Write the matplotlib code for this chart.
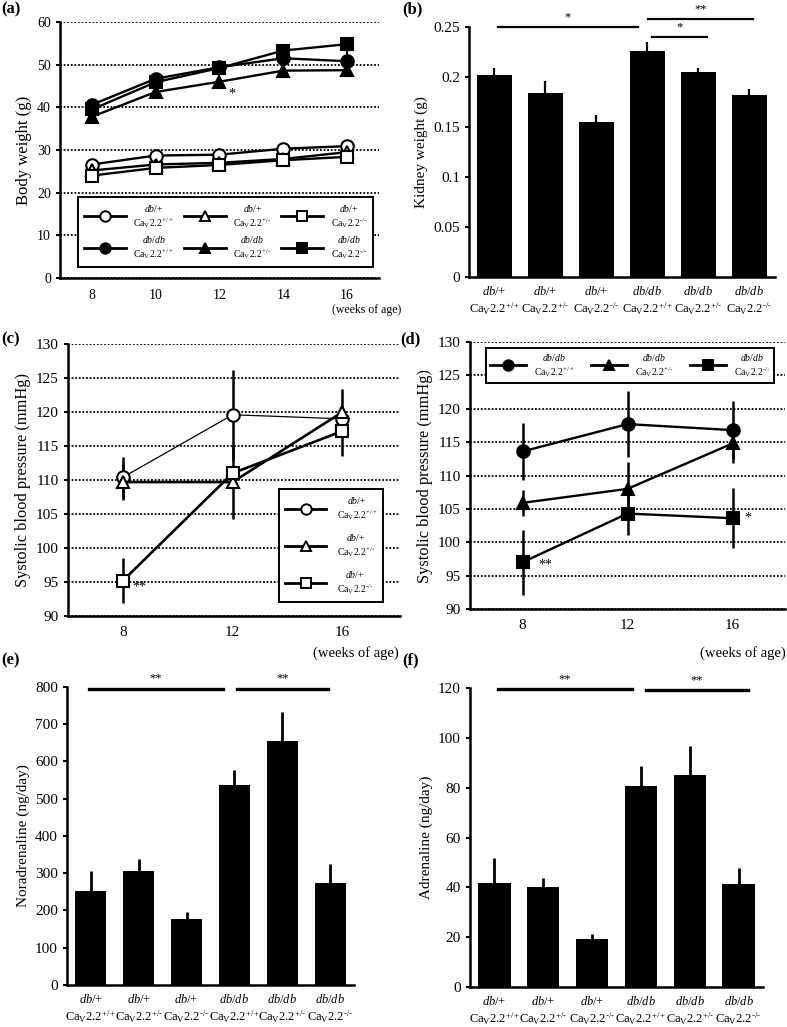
import matplotlib.pyplot as plt
from matplotlib.lines import Line2D
import numpy as np

plt.rcParams['font.family'] = ['Liberation Serif', 'DejaVu Serif']
plt.rcParams['mathtext.fontset'] = 'custom'
plt.rcParams['mathtext.rm'] = 'Liberation Serif'
plt.rcParams['mathtext.it'] = 'Liberation Serif:italic'
plt.rcParams['mathtext.bf'] = 'Liberation Serif:bold'

# ---- data ----
background = ['db/{+}', 'db/{+}', 'db/{+}', 'db/db', 'db/db', 'db/db']
cav_type = ['+/+', '+/-', '-/-', '+/+', '+/-', '-/-']

# (a) body weight
weeks_a = [8, 10, 12, 14, 16]
bw_dbp_pp = [26.6, 28.7, 28.9, 30.3, 30.9]
bw_dbp_pm = [25.2, 26.6, 27.0, 27.9, 29.5]
bw_dbp_mm = [24.0, 25.8, 26.5, 27.6, 28.4]
bw_dbdb_pp = [40.6, 46.7, 49.4, 51.5, 50.8]
bw_dbdb_pm = [37.8, 43.6, 46.0, 48.6, 48.7]
bw_dbdb_mm = [39.5, 45.9, 49.2, 53.3, 54.8]
bw_err_dbp = [0.6, 0.6, 0.6, 0.6, 0.7]
bw_err_dbdb_pp = [1.0, 1.0, 1.2, 1.5, 2.3]
bw_err_dbdb_pm = [0.8, 1.0, 1.6, 1.0, 1.0]
bw_err_dbdb_mm = [0.8, 1.0, 1.0, 1.0, 0.8]

# (b) kidney weight
kidney = [0.2025, 0.1838, 0.1546, 0.2264, 0.2048, 0.1822]
kidney_err = [0.0065, 0.0127, 0.0074, 0.0086, 0.0042, 0.0056]

# (c) / (d) systolic blood pressure
weeks_bp = [8, 12, 16]
sbp_dbp_pp = [110.4, 119.6, 119.0]
sbp_dbp_pm = [109.7, 109.7, 120.0]
sbp_dbp_mm = [95.2, 111.0, 117.2]
sbp_err_dbp_pp = [3.0, 6.6, 1.0]
sbp_err_dbp_pm = [2.7, 5.5, 3.4]
sbp_err_dbp_mm = [3.3, 1.0, 3.6]
sbp_dbdb_pp = [113.6, 117.7, 116.8]
sbp_dbdb_pm = [105.9, 108.0, 114.8]
sbp_dbdb_mm = [97.0, 104.3, 103.6]
sbp_err_dbdb_pp = [4.3, 5.0, 4.3]
sbp_err_dbdb_pm = [2.0, 4.0, 3.0]
sbp_err_dbdb_mm = [4.9, 3.2, 4.5]

# (e) noradrenaline, (f) adrenaline
noradr = [253, 306, 178, 537, 655, 274]
noradr_err = [54, 32, 17, 41, 78, 50]
adr = [41.9, 40.3, 19.2, 80.5, 85.3, 41.3]
adr_err = [10.0, 3.4, 2.0, 8.1, 11.5, 6.4]

# significance brackets: (x0, x1, y, label, star_y)
sig_b = [(0.07, 2.81, 0.2500, '*', 0.2535),
         (3.01, 5.07, 0.2583, '**', 0.2617),
         (3.09, 4.17, 0.2400, '*', 0.2440)]
sig_e = [(-0.04, 2.76, 794, '**', 808),
         (3.05, 4.95, 794, '**', 808)]
sig_f = [(0.07, 2.82, 119.5, '**', 121.3),
         (3.10, 5.20, 119.4, '**', 120.6)]


def geno(bg, ca):
    ca = ca.replace('-', '\u2010')
    return r'$\mathit{' + bg + '}$' + '\n' + r'Ca$_{\mathrm{V}}$2.2$^{' + ca + '}$'


labels = [geno(b, c) for b, c in zip(background, cav_type)]


def style(ax, fs=11):
    for s in ['top', 'right']:
        ax.spines[s].set_visible(False)
    for s in ['left', 'bottom']:
        ax.spines[s].set_linewidth(1.8)
    ax.tick_params(axis='y', direction='out', length=3, width=1.5, labelsize=fs)
    ax.tick_params(axis='x', length=0, labelsize=fs)


def grid(ax):
    ax.yaxis.grid(True, color='black', linewidth=1.3, linestyle=(0, (1, 1)))
    ax.set_axisbelow(True)


def proxy(m, fc):
    return Line2D([], [], color='black', lw=2.0, marker=m, markersize=7.5,
                  mfc=fc, mec='black', mew=1.4)


def boxed(leg):
    leg.get_frame().set_linewidth(1.4)
    for t in leg.get_texts():
        t.set_multialignment('center')


fig = plt.figure(figsize=(7.87, 10.27), dpi=100)

# ---------------- (a) ----------------
ax = fig.add_axes([0.0762, 0.7293, 0.4053, 0.2493])
style(ax, 10)
grid(ax)
series_a = [
    (bw_dbp_pp, bw_err_dbp, 'o', 'white', 'db/{+}', '+/+'),
    (bw_dbdb_pp, bw_err_dbdb_pp, 'o', 'black', 'db/db', '+/+'),
    (bw_dbp_pm, bw_err_dbp, '^', 'white', 'db/{+}', '+/-'),
    (bw_dbdb_pm, bw_err_dbdb_pm, '^', 'black', 'db/db', '+/-'),
    (bw_dbp_mm, bw_err_dbp, 's', 'white', 'db/{+}', '-/-'),
    (bw_dbdb_mm, bw_err_dbdb_mm, 's', 'black', 'db/db', '-/-'),
]
for vals, err, m, fc, bg, ca in series_a:
    ax.errorbar(weeks_a, vals, yerr=err, marker=m, markersize=9, mfc=fc,
                mec='black', mew=1.5, color='black', lw=1.7, elinewidth=1.5,
                capsize=0)
ax.set_xlim(7, 17)
ax.set_ylim(0, 60)
ax.set_yticks(range(0, 61, 10))
ax.set_xticks(weeks_a)
ax.tick_params(axis='x', pad=8)
ax.set_ylabel('Body weight (g)', fontsize=12, labelpad=4)
ax.text(12.4, 43.0, '*', ha='center', va='center', fontsize=10)
leg = ax.legend([proxy(s[2], s[3]) for s in series_a],
                [geno(s[4], s[5]) for s in series_a],
                ncol=3, loc='lower left', bbox_to_anchor=(0.041, 0.023, 0.956, 0.258),
                mode='expand', fontsize=7, handlelength=4.3, frameon=True,
                fancybox=False, edgecolor='black', framealpha=1, borderpad=0.6,
                labelspacing=0.5, handletextpad=0.8)
boxed(leg)
fig.text(401 / 787, 1 - 310 / 1027, '(weeks of age)', ha='right', va='center', fontsize=8.5)

# ---------------- (b) ----------------
ax = fig.add_axes([0.5959, 0.7303, 0.3888, 0.2434])
style(ax)
x = np.arange(len(kidney))
ax.bar(x, kidney, width=0.67, color='black')
ax.vlines(x, kidney, np.array(kidney) + np.array(kidney_err), color='black', lw=1.6)
ax.set_xlim(-0.5, 5.5)
ax.set_ylim(0, 0.25)
ax.set_yticks([0, 0.05, 0.1, 0.15, 0.2, 0.25])
ax.set_yticklabels(['0', '0.05', '0.1', '0.15', '0.2', '0.25'])
ax.set_xticks(x)
ax.set_xticklabels(labels, fontsize=9)
ax.tick_params(axis='x', pad=6)
ax.set_ylabel('Kidney weight (g)', fontsize=11, labelpad=4)
for x0, x1, y, lab, sy in sig_b:
    ax.plot([x0, x1], [y, y], color='black', lw=1.6, clip_on=False)
    ax.text((x0 + x1) / 2, sy, lab, ha='center', va='bottom', fontsize=9)

# ---------------- (c) ----------------
ax = fig.add_axes([0.0864, 0.4002, 0.4219, 0.2648])
style(ax)
grid(ax)
series_c = [
    (sbp_dbp_pp, sbp_err_dbp_pp, 'o', 0.9, '+/+'),
    (sbp_dbp_pm, sbp_err_dbp_pm, '^', 1.9, '+/-'),
    (sbp_dbp_mm, sbp_err_dbp_mm, 's', 1.9, '-/-'),
]
for vals, err, m, lw, ca in series_c:
    ax.errorbar(weeks_bp, vals, yerr=err, marker=m, markersize=9, mfc='white',
                mec='black', mew=1.5, color='black', lw=lw, elinewidth=1.8,
                capsize=0)
ax.set_xlim(6, 18.1)
ax.set_ylim(90, 130)
ax.set_yticks(range(90, 131, 5))
ax.set_xticks(weeks_bp)
ax.tick_params(axis='x', pad=7)
ax.set_ylabel('Systolic blood pressure (mmHg)', fontsize=11.8, labelpad=4)
ax.text(8.35, 94.2, '**', ha='left', va='center', fontsize=10)
leg = ax.legend([proxy(s[2], 'white') for s in series_c],
                [geno('db/{+}', s[4]) for s in series_c],
                loc='lower right', bbox_to_anchor=(0.964, 0.033), fontsize=7,
                handlelength=4.2, frameon=True, fancybox=False, edgecolor='black',
                framealpha=1, borderpad=0.6, labelspacing=1.05, handletextpad=1.1)
boxed(leg)
fig.text(399 / 787, 1 - 653 / 1027, '(weeks of age)', ha='right', va='center', fontsize=10.5)

# ---------------- (d) ----------------
ax = fig.add_axes([0.5972, 0.4070, 0.4003, 0.2600])
style(ax)
grid(ax)
series_d = [
    (sbp_dbdb_pp, sbp_err_dbdb_pp, 'o', '+/+'),
    (sbp_dbdb_pm, sbp_err_dbdb_pm, '^', '+/-'),
    (sbp_dbdb_mm, sbp_err_dbdb_mm, 's', '-/-'),
]
for vals, err, m, ca in series_d:
    ax.errorbar(weeks_bp, vals, yerr=err, marker=m, markersize=9, mfc='black',
                mec='black', mew=1.5, color='black', lw=1.7, elinewidth=1.8,
                capsize=0)
ax.set_xlim(6, 18)
ax.set_ylim(90, 130)
ax.set_yticks(range(90, 131, 5))
ax.set_xticks(weeks_bp)
ax.tick_params(axis='x', pad=7)
ax.set_ylabel('Systolic blood pressure (mmHg)', fontsize=11.8, labelpad=4)
ax.text(8.6, 96.6, '**', ha='left', va='center', fontsize=10)
ax.text(16.45, 103.6, '*', ha='left', va='center', fontsize=10)
leg = ax.legend([proxy(s[2], 'black') for s in series_d],
                [geno('db/db', s[3]) for s in series_d],
                ncol=3, loc='upper left', bbox_to_anchor=(0.035, 0.854, 0.946, 0.142),
                mode='expand', fontsize=7, handlelength=3.7, frameon=True,
                fancybox=False, edgecolor='black', framealpha=1, borderpad=0.4,
                handletextpad=0.8)
boxed(leg)
fig.text(786 / 787, 1 - 653 / 1027, '(weeks of age)', ha='right', va='center', fontsize=10.5)

# ---------------- (e) ----------------
ax = fig.add_axes([0.0851, 0.0409, 0.3647, 0.2902])
style(ax)
x = np.arange(len(noradr))
ax.bar(x, noradr, width=0.65, color='black')
ax.vlines(x, noradr, np.array(noradr) + np.array(noradr_err), color='black', lw=2.0)
ax.set_xlim(-0.5, 5.5)
ax.set_ylim(0, 800)
ax.set_yticks(range(0, 801, 100))
ax.set_xticks(x)
ax.set_xticklabels(labels, fontsize=9)
ax.tick_params(axis='x', pad=6)
ax.set_ylabel('Noradrenaline (ng/day)', fontsize=11, labelpad=4)
for x0, x1, y, lab, sy in sig_e:
    ax.plot([x0, x1], [y, y], color='black', lw=2.4, clip_on=False)
    ax.text((x0 + x1) / 2, sy, lab, ha='center', va='bottom', fontsize=9)

# ---------------- (f) ----------------
ax = fig.add_axes([0.5972, 0.0389, 0.3723, 0.2911])
style(ax)
x = np.arange(len(adr))
ax.bar(x, adr, width=0.66, color='black')
ax.vlines(x, adr, np.array(adr) + np.array(adr_err), color='black', lw=2.0)
ax.set_xlim(-0.5, 5.5)
ax.set_ylim(0, 120)
ax.set_yticks(range(0, 121, 20))
ax.set_xticks(x)
ax.set_xticklabels(labels, fontsize=9)
ax.tick_params(axis='x', pad=6)
ax.set_ylabel('Adrenaline (ng/day)', fontsize=11, labelpad=4)
for x0, x1, y, lab, sy in sig_f:
    ax.plot([x0, x1], [y, y], color='black', lw=2.4, clip_on=False)
    ax.text((x0 + x1) / 2, sy, lab, ha='center', va='bottom', fontsize=9)

# panel letters
for lab, px, py in [('(a)', 1, 1), ('(b)', 402, 1), ('(c)', 1, 331),
                    ('(d)', 400, 331), ('(e)', 1, 652), ('(f)', 402, 652)]:
    fig.text(px / 787, 1 - py / 1027, lab, ha='left', va='top', fontsize=12,
             fontweight='bold')

fig.savefig('out.png', dpi=100)
